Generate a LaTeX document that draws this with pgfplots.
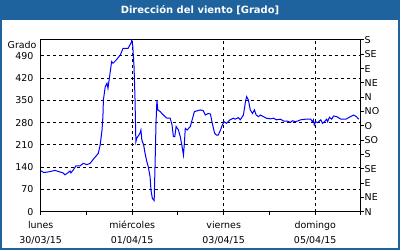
\documentclass[border=0pt]{standalone}
\usepackage{pgfplots}
\pgfplotsset{compat=1.18}
\usepackage{fontspec}
\setmainfont{DejaVu Sans}
\definecolor{frameblue}{RGB}{31,99,158}
\begin{document}
\begin{tikzpicture}
\useasboundingbox (0,0) rectangle (400bp,250bp);
\fill[frameblue] (0,0) rectangle (400bp,250bp);
\fill[white] (2bp,2bp) rectangle (398bp,230bp);
\node[text=white,font=\bfseries\fontsize{10}{12}\selectfont] at (200bp,240bp) {Dirección del viento [Grado]};
\begin{axis}[
  at={(40.7bp,38.3bp)}, anchor=south west,
  scale only axis, width=320.3bp, height=171.7bp,
  xmin=0, xmax=7, ymin=0, ymax=540,
  /pgf/number format/assume math mode=true,
  every tick label/.append style={font=\fontsize{9.5}{11}\selectfont},
  axis line style={line width=1bp},
  tick align=outside,
  xtick={0,2,4,6},
  minor xtick={1,3,5,7},
  xtick pos=bottom, ytick pos=left,
  xticklabels={lunes\\[3.5bp]30/03/15, miércoles\\[3.5bp]01/04/15, viernes\\[3.5bp]03/04/15, domingo\\[3.5bp]05/04/15},
  xticklabel style={align=center, inner sep=0pt, yshift=-6.5bp},
  major tick length=3bp, minor tick length=3bp,
  xtick style={black, line width=1bp},
  ytick={0,70,...,490},
  ytick style={draw=none},
  yticklabel style={inner sep=0pt, xshift=-4bp},
  xmajorgrids, ymajorgrids,
  major grid style={black, line width=1bp, dash pattern=on 3bp off 3bp},
  clip mode=individual,
]
\addplot[color=blue, line width=1bp] coordinates {
(0.00,129) (0.07,123) (0.20,126) (0.31,130) (0.42,125) (0.49,122) (0.53,116)
(0.60,123) (0.64,128) (0.66,122) (0.71,131) (0.77,144) (0.86,144) (0.93,152)
(1.01,148) (1.08,152) (1.15,165) (1.21,175) (1.26,184) (1.30,210) (1.34,257)
(1.36,299) (1.37,351) (1.41,393) (1.45,404) (1.47,388) (1.52,440) (1.55,472)
(1.58,467) (1.65,477) (1.74,493) (1.80,514) (1.91,514) (1.98,532) (1.99,540)
(2.01,525) (2.04,456) (2.06,362) (2.08,220) (2.10,231) (2.17,247) (2.19,257)
(2.21,226) (2.25,210) (2.28,184) (2.32,157) (2.35,142) (2.39,110) (2.41,68)
(2.44,42) (2.48,35) (2.50,152) (2.52,278) (2.54,351) (2.56,320) (2.61,315)
(2.68,304) (2.76,294) (2.83,294) (2.87,273) (2.90,236) (2.93,236) (2.96,268)
(3.01,257) (3.05,236) (3.09,205) (3.12,178) (3.14,215) (3.16,262) (3.20,257)
(3.27,268) (3.31,289) (3.36,315) (3.44,318) (3.49,320) (3.55,318) (3.60,304)
(3.66,309) (3.71,307) (3.75,278) (3.80,247) (3.84,241) (3.88,241) (3.93,257)
(3.97,273) (4.01,283) (4.06,278) (4.14,289) (4.21,294) (4.25,291) (4.32,296)
(4.36,289) (4.43,304) (4.47,341) (4.50,362) (4.54,351) (4.58,320) (4.63,309)
(4.67,320) (4.71,304) (4.76,299) (4.80,304) (4.87,299) (4.93,294) (5.02,292)
(5.09,294) (5.15,289) (5.24,291) (5.31,285) (5.39,285) (5.46,281) (5.50,286)
(5.57,283) (5.63,286) (5.68,289) (5.79,291) (5.90,291) (5.94,283) (5.96,289)
(5.98,273) (6.01,283) (6.05,280) (6.12,289) (6.16,278) (6.20,283) (6.25,291)
(6.27,283) (6.31,297) (6.36,291) (6.40,301) (6.47,299) (6.56,291) (6.67,291)
(6.77,299) (6.84,304) (6.90,299) (6.95,291)
};
\node[anchor=east, inner sep=0pt, font=\fontsize{9.5}{11}\selectfont] at (rel axis cs:0,1) [xshift=-4bp, yshift=-5bp] {Grado};
\end{axis}
\begin{axis}[
  at={(40.7bp,38.3bp)}, anchor=south west,
  scale only axis, width=320.3bp, height=171.7bp,
  xmin=0, xmax=7, ymin=0, ymax=540,
  axis x line=none, axis y line*=right,
  axis line style={line width=1bp, -},
  tick align=outside,
  major tick length=3bp,
  ytick={0,45,...,540},
  yticklabels={N,NE,E,SE,S,SO,O,NO,N,NE,E,SE,S},
  ytick style={black, line width=1bp},
  every tick label/.append style={font=\fontsize{9.5}{11}\selectfont},
  yticklabel style={anchor=west, inner sep=0pt, xshift=0.5bp},
]
\addplot[draw=none] coordinates {(0,0)};
\end{axis}
\end{tikzpicture}
\end{document}
